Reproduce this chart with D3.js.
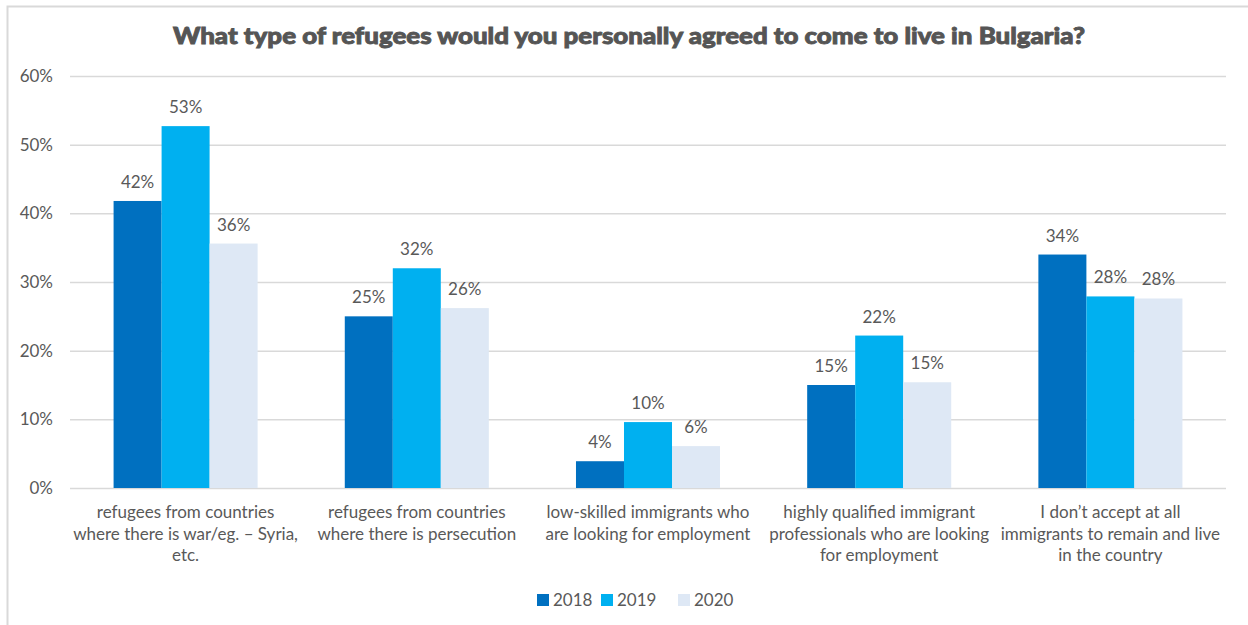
<!DOCTYPE html>
<html>
<head>
<meta charset="utf-8">
<script src="https://cdn.jsdelivr.net/npm/d3@7"></script>
<style>
  html, body { margin: 0; padding: 0; background: #fff; }
  svg { display: block; }
</style>
</head>
<body>
<svg id="chart" width="1248" height="625"></svg>
<script>
// Survey answers: share of respondents per refugee type, by year
const categories = [
  ["refugees from countries", "where there is war/eg. \u2013 Syria,", "etc."],
  ["refugees from countries", "where there is persecution"],
  ["low-skilled immigrants who", "are looking for employment"],
  ["highly qualified immigrant", "professionals who are looking", "for employment"],
  ["I don\u2019t accept at all", "immigrants to remain and live", "in the country"]
];
const years = ["2018", "2019", "2020"];
const values2018 = [0.418, 0.250, 0.039, 0.150, 0.340];
const values2019 = [0.527, 0.320, 0.096, 0.222, 0.279];
const values2020 = [0.356, 0.262, 0.061, 0.154, 0.276];
const yTicks = [0, 0.1, 0.2, 0.3, 0.4, 0.5, 0.6];
const titleText = "What type of refugees would you personally agreed to come to live in Bulgaria?";

const seriesByYear = [values2018, values2019, values2020];
const colors = ["#0070C0", "#00B0F0", "#DEE8F5"];
const textColor = "#595959";
const font = "Lato, 'Open Sans', sans-serif";
const fontSize = "17px";

const svg = d3.select("#chart");

// outer frame (top and left edges visible)
svg.append("path")
  .attr("d", "M7.5,625 V6.5 H1248")
  .attr("fill", "none")
  .attr("stroke", "#d9d9d9")
  .attr("stroke-width", 2);

const plot = { left: 70, right: 1226, top: 76, bottom: 488 };

const x0 = d3.scaleBand()
  .domain(d3.range(categories.length))
  .range([plot.left, plot.right])
  .paddingInner(0.377)
  .paddingOuter(0.1885);

const x1 = d3.scaleBand()
  .domain(years)
  .range([0, x0.bandwidth()]);

const y = d3.scaleLinear()
  .domain([0, 0.6])
  .range([plot.bottom, plot.top]);

// gridlines and y axis labels
const yAxis = d3.axisLeft(y)
  .tickValues(yTicks)
  .tickFormat(d3.format(".0%"))
  .tickSize(-(plot.right - plot.left))
  .tickPadding(17);

const gy = svg.append("g")
  .attr("transform", `translate(${plot.left},0)`)
  .call(yAxis);
gy.select(".domain").remove();
gy.selectAll(".tick line")
  .attr("stroke", "#d9d9d9")
  .attr("stroke-width", 1.5);
gy.selectAll(".tick text")
  .attr("fill", textColor)
  .style("font-family", font)
  .style("font-size", fontSize);

// bars
const groups = svg.append("g").selectAll("g")
  .data(categories.map((c, i) => ({ i, vals: years.map((yr, k) => ({ year: yr, k, v: seriesByYear[k][i] })) })))
  .join("g")
  .attr("transform", d => `translate(${x0(d.i)},0)`);

groups.selectAll("rect")
  .data(d => d.vals)
  .join("rect")
  .attr("x", d => x1(d.year))
  .attr("width", x1.bandwidth())
  .attr("y", d => y(d.v))
  .attr("height", d => y(0) - y(d.v))
  .attr("fill", d => colors[d.k]);

// value labels
groups.selectAll("text.value")
  .data(d => d.vals)
  .join("text")
  .attr("class", "value")
  .attr("x", d => x1(d.year) + x1.bandwidth() / 2)
  .attr("y", d => y(d.v) - 13)
  .attr("text-anchor", "middle")
  .attr("fill", textColor)
  .style("font-family", font)
  .style("font-size", fontSize)
  .text(d => d3.format(".0%")(d.v));

// category labels
const catLabels = svg.append("g").selectAll("text")
  .data(categories)
  .join("text")
  .attr("x", (d, i) => x0(i) + x0.bandwidth() / 2)
  .attr("y", 518)
  .attr("text-anchor", "middle")
  .attr("fill", textColor)
  .style("font-family", font)
  .style("font-size", fontSize);
catLabels.selectAll("tspan")
  .data(d => d)
  .join("tspan")
  .attr("x", function() { return d3.select(this.parentNode).attr("x"); })
  .attr("dy", (d, j) => j === 0 ? 0 : 21.5)
  .text(d => d);

// title
svg.append("text")
  .attr("x", 629)
  .attr("y", 44)
  .attr("text-anchor", "middle")
  .attr("fill", "#555555")
  .attr("stroke", "#555555")
  .attr("stroke-width", 0.9)
  .style("font-family", "Lato, 'Open Sans', sans-serif")
  .style("font-weight", 900)
  .style("font-size", "23px")
  .attr("textLength", 912)
  .attr("lengthAdjust", "spacingAndGlyphs")
  .text(titleText);

// legend
const legendX = [537, 601, 678];
const legend = svg.append("g").selectAll("g")
  .data(years)
  .join("g")
  .attr("transform", (d, i) => `translate(${legendX[i]},594)`);
legend.append("rect")
  .attr("width", 12)
  .attr("height", 12)
  .attr("fill", (d, i) => colors[i]);
legend.append("text")
  .attr("x", 16)
  .attr("y", 12)
  .attr("fill", textColor)
  .style("font-family", font)
  .style("font-size", fontSize)
  .text(d => d);
</script>
</body>
</html>
